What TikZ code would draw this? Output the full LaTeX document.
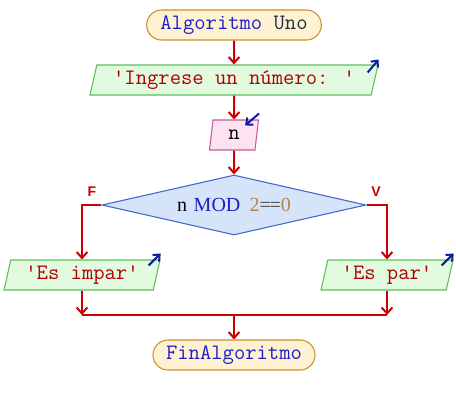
\documentclass[tikz,border=0pt]{standalone}
\usepackage{fontspec}
\newfontfamily\condfont{Liberation Serif}
\newfontfamily\flagfont{Liberation Sans}
\usetikzlibrary{shapes.geometric,shapes.misc,arrows.meta}
\definecolor{flowred}{HTML}{CC0000}
\definecolor{ioblue}{HTML}{0A1EA0}
\definecolor{termline}{HTML}{C8902E}
\definecolor{termfill}{HTML}{FFF2D2}
\definecolor{outline}{HTML}{5CBF5C}
\definecolor{outfill}{HTML}{E2FADF}
\definecolor{inline}{HTML}{C85A96}
\definecolor{infill}{HTML}{FDE2F0}
\definecolor{decline}{HTML}{4466C8}
\definecolor{decfill}{HTML}{D6E4FA}
\definecolor{kwblue}{HTML}{1E1EC8}
\definecolor{unodark}{HTML}{1C3240}
\definecolor{strred}{HTML}{B00000}
\definecolor{numbrown}{HTML}{C08040}
\definecolor{opgray}{HTML}{404040}
\tikzset{
  flow/.style={draw=flowred, line width=1.5pt, -{Straight Barb[length=4.5pt,width=8pt]}},
  flowline/.style={draw=flowred, line width=1.5pt},
  ioarrow/.style={draw=ioblue, line width=1.5pt, -{Straight Barb[length=4pt,width=7pt]}},
  term/.style={rounded rectangle, draw=termline, fill=termfill, line width=0.8pt,
    minimum height=22.5pt, inner sep=0pt},
  outbox/.style={trapezium, trapezium left angle=70, trapezium right angle=110,
    trapezium stretches body, draw=outline, fill=outfill, line width=0.8pt,
    minimum height=22.5pt, inner sep=0pt, text=strred},
  inbox/.style={outbox, draw=inline, fill=infill, text=black},
  decision/.style={diamond, aspect=4.4, draw=decline, fill=decfill, line width=0.8pt,
    minimum width=198pt, minimum height=45pt, inner sep=0pt},
  flag/.style={font=\flagfont\bfseries\fontsize{10.5}{12}\selectfont, text=flowred}
}
\begin{document}
\begin{tikzpicture}[x=0.75pt,y=-0.75pt,font=\ttfamily\fontsize{16.5}{18}\selectfont]
  \useasboundingbox (0,0) rectangle (456,405);
  % bloques
  \node[term, minimum width=131pt] (inicio) at (234,25)
    {\textcolor{kwblue}{Algoritmo} \textcolor{unodark}{Uno}};
  \node[outbox, minimum width=216pt] (msg) at (234,80) {\textquotesingle Ingrese un número: \textquotesingle};
  \node[inbox, minimum width=36.75pt] (leer) at (234,135) {n};
  \node[decision] (cond) at (234,205)
    {\condfont\fontsize{15}{17}\selectfont n\hspace{5pt}\textcolor{kwblue}{MOD}\hspace{7pt}\textcolor{numbrown}{2}\textcolor{opgray}{=\kern-1pt=}\textcolor{numbrown}{0}};
  \node[outbox, minimum width=117pt] (impar) at (82,275) {\textquotesingle Es impar\textquotesingle};
  \node[outbox, minimum width=99pt] (par) at (387,275) {\textquotesingle Es par\textquotesingle};
  \coordinate (merge) at (234,315);
  \node[term, minimum width=121.5pt] (fin) at (234,355) {\textcolor{kwblue}{FinAlgoritmo}};
  % etiquetas de las ramas
  \node[flag] (lblF) at (92,192) {F};
  \node[flag] (lblV) at (376,192) {V};
  % flujo
  \draw[flow] (inicio) -- (msg);
  \draw[flow] (msg) -- (leer);
  \draw[flow] (leer) -- (cond);
  \draw[flow] (cond.west) -| (impar.north);
  \draw[flow] (cond.east) -| (par.north);
  \draw[flow] (impar.south) -- (impar.south |- merge);
  \draw[flow] (par.south) -- (par.south |- merge);
  \draw[flowline] (impar.south |- merge) -- (par.south |- merge);
  \draw[flow] (merge) -- (fin);
  % flechas de entrada / salida
  \draw[ioarrow] ([shift={(-11,8)}]msg.top right corner) -- ([shift={(0,-5)}]msg.top right corner);
  \draw[ioarrow] ([shift={(0,-6)}]leer.top right corner) -- ([shift={(-14,6)}]leer.top right corner);
  \draw[ioarrow] ([shift={(-12,6)}]impar.top right corner) -- ([shift={(0,-6)}]impar.top right corner);
  \draw[ioarrow] ([shift={(-12,6)}]par.top right corner) -- ([shift={(0,-6)}]par.top right corner);
\end{tikzpicture}
\end{document}
